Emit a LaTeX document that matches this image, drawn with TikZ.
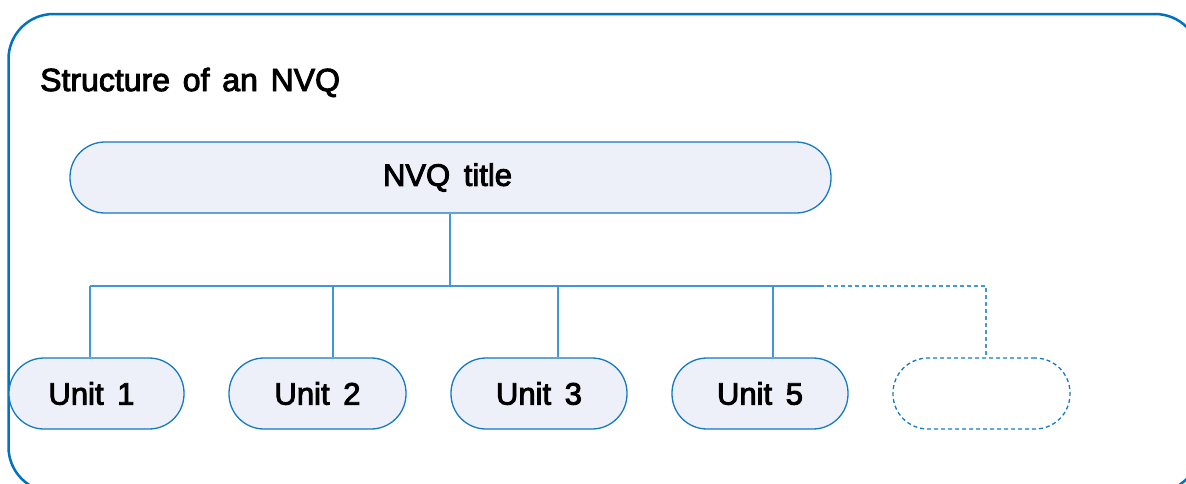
\documentclass[tikz,border=0pt]{standalone}
\usepackage{fontspec}
\setmainfont{Liberation Sans}
\newfontfamily\heavyfont{Liberation Sans}[FakeBold=3]
\definecolor{frameblue}{RGB}{0,114,192}
\definecolor{boxedge}{RGB}{20,122,196}
\definecolor{wireblue}{RGB}{66,152,212}
\definecolor{boxfill}{RGB}{237,240,248}
\newcommand\headingfont{\heavyfont\fontsize{32}{38}\selectfont\spaceskip 0.4em\relax}
\newcommand\pillfont{\heavyfont\fontsize{31}{36}\selectfont\spaceskip 0.44em\relax}
\tikzset{
  frame/.style={draw=frameblue, line width=2.5pt, rounded corners=45pt},
  pill/.style={draw=boxedge, fill=boxfill, line width=1.3pt,
    rounded corners=35pt, minimum height=71pt, inner sep=0pt,
    font=\pillfont},
  emptypill/.style={pill, fill=none, dashed, dash pattern=on 4pt off 3pt},
  wire/.style={draw=wireblue, line width=1.4pt},
  dashedwire/.style={wire, dash pattern=on 4pt off 3pt},
  heading/.style={anchor=base west, inner sep=0pt, font=\headingfont}
}
\begin{document}
\begin{tikzpicture}[x=1pt, y=-1pt]
  \useasboundingbox (0,0) rectangle (1186,483);
  % outer frame
  \draw[frame] (8.5,14) rectangle (1200,492);
  % heading
  \node[heading] (head) at (40,91) {Structure of an NVQ};
  % qualification title
  \node[pill, minimum width=761pt] (title) at (450.5,177.5) {\kern-6pt NVQ title};
  % units
  \node[pill, minimum width=175pt] (u1) at (96.5,393.5) {\kern-10pt Unit 1};
  \node[pill, minimum width=177pt] (u2) at (317.5,393.5) {Unit 2};
  \node[pill, minimum width=176pt] (u3) at (539,393.5) {Unit 3};
  \node[pill, minimum width=176pt] (u5) at (760,393.5) {Unit 5};
  \node[emptypill, minimum width=177pt] (u6) at (981.5,393.5) {};
  % bus junctions
  \coordinate (top) at (450,286);
  \coordinate (j1) at (90,286);
  \coordinate (j2) at (333,286);
  \coordinate (j3) at (558,286);
  \coordinate (j5) at (773,286);
  \coordinate (jend) at (820,286);
  \coordinate (j6) at (986,286);
  % connectors
  \draw[wire] (title.south -| top) -- (top);
  \draw[wire] (j1) -- (jend);
  \draw[wire] (j1) -- (j1 |- u1.north);
  \draw[wire] (j2) -- (j2 |- u2.north);
  \draw[wire] (j3) -- (j3 |- u3.north);
  \draw[wire] (j5) -- (j5 |- u5.north);
  \draw[dashedwire] (jend) -- (j6) -- (j6 |- u6.north);
\end{tikzpicture}
\end{document}
